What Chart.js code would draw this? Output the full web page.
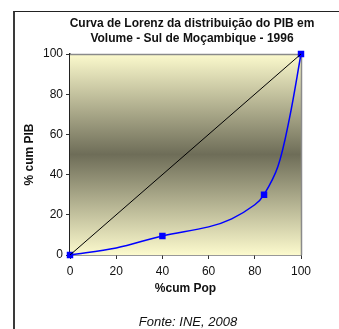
<!DOCTYPE html>
<html>
<head>
<meta charset="utf-8">
<script src="https://cdn.jsdelivr.net/npm/chart.js@4"></script>
<style>
  html,body{margin:0;padding:0;background:#fff;}
  #wrap{position:relative;width:339px;height:329px;overflow:hidden;font-family:Arial,"Liberation Sans",sans-serif;}
  #frame{position:absolute;left:13px;top:11px;width:340px;height:340px;border-left:2px solid #3a3a3a;border-top:1px solid #222;}
  #title{position:absolute;left:42px;width:300px;top:16px;text-align:center;font-weight:bold;font-size:12px;line-height:14.5px;color:#111;}
  #note{position:absolute;left:88px;width:200px;top:314px;text-align:center;font-style:italic;font-size:13px;color:#111;}
  canvas{position:absolute;left:0;top:0;}
</style>
</head>
<body>
<div id="wrap">
  <div id="frame"></div>
  <canvas id="c" width="339" height="329"></canvas>
  <div id="title">Curva de Lorenz da distribuição do PIB em<br>Volume - Sul de Moçambique - 1996</div>
  <div id="note">Fonte: INE, 2008</div>
</div>
<script>
// ─── DATA ───────────────────────────────────────────────────────────
const popCum   = [0, 20, 40, 60, 70, 80, 84, 90, 95, 100];
const pibCum   = [0, 3.5, 9.5, 14, 18, 25, 30, 44, 68, 100];
const marked   = [true, false, true, false, false, false, true, false, false, true];
const equalX   = [0, 100];
const equalY   = [0, 100];
const axisTicks = [0, 20, 40, 60, 80, 100];

// background gradient + plot border
const plotBg = {
  id:'plotBg',
  beforeDatasetsDraw(chart){
    const {ctx, chartArea:a} = chart;
    const g = ctx.createLinearGradient(0,a.top,0,a.bottom);
    g.addColorStop(0,'#fcfacd');
    g.addColorStop(0.5,'#6e6d58');
    g.addColorStop(1,'#fcfacd');
    ctx.save();
    ctx.fillStyle = g;
    ctx.fillRect(a.left,a.top,a.right-a.left,a.bottom-a.top);
    ctx.strokeStyle = '#8a8a8a';
    ctx.lineWidth = 1.5;
    ctx.beginPath();
    ctx.moveTo(a.left,a.top+0.5); ctx.lineTo(a.right+0.5,a.top+0.5); ctx.lineTo(a.right+0.5,a.bottom);
    ctx.stroke();
    ctx.restore();
  }
};

const tickFont = {family:'Arial, "Liberation Sans", sans-serif', size:12};
const titleFont = {family:'Arial, "Liberation Sans", sans-serif', size:12, weight:'bold'};

new Chart(document.getElementById('c'),{
  type:'scatter',
  data:{datasets:[
    {data:equalX.map((x,i)=>({x,y:equalY[i]})),showLine:true,borderColor:'#000',borderWidth:1,pointRadius:0,clip:false},
    {data:popCum.map((x,i)=>({x,y:pibCum[i]})),showLine:true,borderColor:'#0000ff',borderWidth:1.5,
     tension:0.35,pointStyle:'rect',pointRadius:marked.map(m=>m?3.5:0),
     pointBackgroundColor:'#0000ff',pointBorderColor:'#0000ff',clip:false}
  ]},
  options:{
    responsive:false,animation:false,
    layout:{padding:{top:54,right:38,bottom:0,left:0}},
    plugins:{legend:{display:false},tooltip:{enabled:false}},
    scales:{
      x:{type:'linear',min:0,max:100,
        afterBuildTicks:s=>{s.ticks=axisTicks.map(v=>({value:v}));},
        afterFit:s=>{s.height=74;},
        grid:{drawOnChartArea:false,drawTicks:true,tickLength:4,color:'#333'},
        border:{color:'#333',width:1.5},
        ticks:{font:tickFont,color:'#111',padding:5,maxRotation:0},
        title:{display:true,text:'%cum Pop',font:titleFont,color:'#111',padding:{top:0,bottom:33}}},
      y:{type:'linear',min:0,max:100,
        afterBuildTicks:s=>{s.ticks=axisTicks.map(v=>({value:v}));},
        afterFit:s=>{s.width=70;},
        grid:{drawOnChartArea:false,drawTicks:true,tickLength:4,color:'#333'},
        border:{color:'#222',width:1.5},
        ticks:{font:tickFont,color:'#111',padding:3},
        title:{display:true,text:'% cum PIB',font:titleFont,color:'#111',padding:{top:22,bottom:0}}}
    }
  },
  plugins:[plotBg]
});
</script>
</body>
</html>
